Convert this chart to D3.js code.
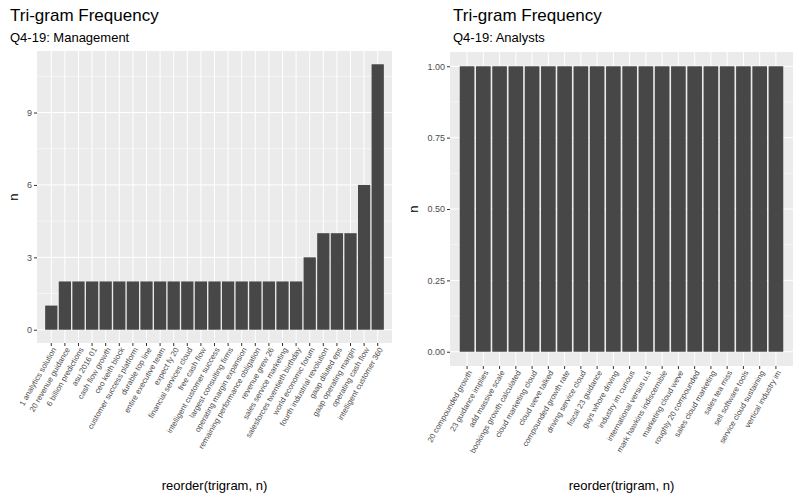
<!DOCTYPE html>
<html><head><meta charset="utf-8">
<script src="https://cdn.jsdelivr.net/npm/d3@7"></script>
<style>body{margin:0;background:#fff}text{font-family:"Liberation Sans",Arial,sans-serif}</style>
</head><body><div id="chart"></div>
<script>
const mgmtTerms = ["1 analytics solution","20 revenue guidance","6 billion predictions","asu 2016 01","cash flow growth","ceo keith block","customer success platform","durable top line","entire executive team","expect fy 20","financial services cloud","free cash flow","intelligent customer success","largest consulting firms","operating margin expansion","remaining performance obligation","revenue grew 26","sales service marketing","salesforces twentieth birthday","world economic forum","fourth industrial revolution","gaap diluted eps","gaap operating margin","operating cash flow","intelligent customer 360"]
const mgmtN = [1,2,2,2,2,2,2,2,2,2,2,2,2,2,2,2,2,2,2,3,4,4,4,6,11]
const mgmtTicks = [0,3,6,9]
const anTerms = ["20 compounded growth","23 guidance implies","add massive scale","bookings growth calculated","cloud marketing cloud","cloud weve talked","compounded growth rate","driving service cloud","fiscal 23 guidance","guys whore driving","industry im curious","international versus u.s","mark hawkins indiscernible","marketing cloud weve","roughly 20 compounded","sales cloud marketing","sales tea miss","sell software tools","service cloud sustaining","vertical industry im"]
const anN = anTerms.map(() => 1)
const anTicks = [0,0.25,0.5,0.75,1]

const svg = d3.select('#chart').append('svg').attr('width', 800).attr('height', 500)

const panel = (cfg) => {
    const {x0, x1, y0, y1, terms, vals, ticks, fmt, title, sub} = cfg
    const g = svg.append('g')
    const max = d3.max(vals)
    const y = d3.scaleLinear().domain([-max * 0.05, max * 1.05]).range([y1, y0])
    const x = d3.scaleBand().domain(terms).range([x0, x1]).paddingInner(0.1).paddingOuter(0.6)
    g.append('rect').attr('x', x0).attr('y', y0).attr('width', x1 - x0).attr('height', y1 - y0).attr('fill', '#ebebeb')
    for (let i = 0; i < ticks.length - 1; i++) {
        const m = (ticks[i] + ticks[i + 1]) / 2
        g.append('line').attr('x1', x0).attr('x2', x1).attr('y1', y(m)).attr('y2', y(m)).attr('stroke', '#fff').attr('stroke-width', 0.5)
    }
    const last = ticks[ticks.length - 1] + (ticks[1] - ticks[0]) / 2
    if (y(last) > y0) g.append('line').attr('x1', x0).attr('x2', x1).attr('y1', y(last)).attr('y2', y(last)).attr('stroke', '#fff').attr('stroke-width', 0.5)
    ticks.forEach(t => g.append('line').attr('x1', x0).attr('x2', x1).attr('y1', y(t)).attr('y2', y(t)).attr('stroke', '#fff').attr('stroke-width', 1))
    terms.forEach(t => g.append('line').attr('y1', y0).attr('y2', y1).attr('x1', x(t) + x.bandwidth() / 2).attr('x2', x(t) + x.bandwidth() / 2).attr('stroke', '#fff').attr('stroke-width', 1))
    g.selectAll('rect.bar').data(terms).join('rect').attr('class', 'bar')
        .attr('x', d => x(d)).attr('width', x.bandwidth())
        .attr('y', (d, i) => y(vals[i])).attr('height', (d, i) => y(0) - y(vals[i]))
        .attr('fill', '#474747')
    const ya = g.append('g').attr('transform', `translate(${x0},0)`).call(d3.axisLeft(y).tickValues(ticks).tickFormat(fmt).tickSize(3).tickPadding(2))
    ya.select('.domain').remove()
    ya.selectAll('line').attr('stroke', '#333')
    ya.selectAll('text').attr('fill', '#4d4d4d').style('font-size', '9px')
    const xa = g.append('g').attr('transform', `translate(0,${y1})`).call(d3.axisBottom(x).tickSize(3))
    xa.select('.domain').remove()
    xa.selectAll('line').attr('stroke', '#333')
    xa.selectAll('text').attr('fill', '#4d4d4d').style('font-size', '7.8px')
        .attr('text-anchor', 'end').attr('transform', 'translate(3,5) rotate(-60)').attr('dy', '0.35em').attr('y', 0)
    const ax = cfg.nx
    g.append('text').attr('x', ax).attr('y', (y0 + y1) / 2).attr('transform', `rotate(-90,${ax},${(y0 + y1) / 2})`)
        .attr('text-anchor', 'middle').style('font-size', '13px').text('n')
    g.append('text').attr('x', (x0 + x1) / 2).attr('y', 490).attr('text-anchor', 'middle').style('font-size', '13px').text('reorder(trigram, n)')
    g.append('text').attr('x', cfg.tx).attr('y', 21).style('font-size', '17px').text(title)
    g.append('text').attr('x', cfg.tx).attr('y', 42).style('font-size', '13px').text(sub)
}

panel({x0: 37, x1: 392, y0: 51, y1: 343, terms: mgmtTerms, vals: mgmtN, ticks: mgmtTicks, fmt: d3.format('d'), title: 'Tri-gram Frequency', sub: 'Q4-19: Management', tx: 10, nx: 18})
panel({x0: 450, x1: 793, y0: 52, y1: 366, terms: anTerms, vals: anN, ticks: anTicks, fmt: d3.format('.2f'), title: 'Tri-gram Frequency', sub: 'Q4-19: Analysts', tx: 453, nx: 418})
</script></body></html>
